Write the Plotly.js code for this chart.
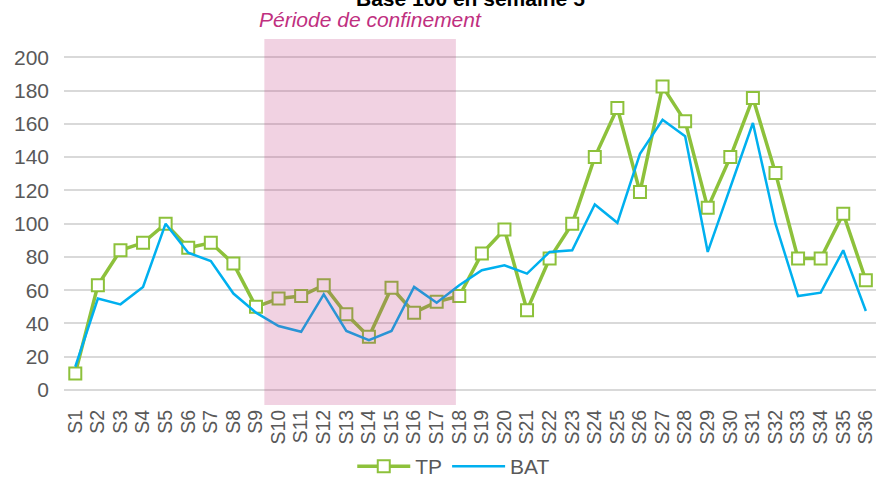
<!DOCTYPE html>
<html>
<head>
<meta charset="utf-8">
<script src="https://cdn.plot.ly/plotly-3.0.1.min.js"></script>
<style>html,body{margin:0;padding:0;background:#fff;}#chart{width:876px;height:477px;}</style>
</head>
<body>
<div id="chart"></div>
<script>
const weeks = ["S1","S2","S3","S4","S5","S6","S7","S8","S9","S10","S11","S12","S13","S14","S15","S16","S17","S18",
  "S19","S20","S21","S22","S23","S24","S25","S26","S27","S28","S29","S30","S31","S32","S33","S34","S35","S36"];
const tpValues = [10, 63, 84, 88.5, 100, 85.5, 88.5, 76, 50, 55, 56.5, 63, 45.5, 32, 61.5, 46.5, 53, 56.5,
  82, 96.5, 48, 79, 100, 140, 169.5, 119, 182.5, 161.5, 109.5, 140, 175.5, 130.5, 79, 79, 106, 66];
const batValues = [14, 55, 51.5, 62, 100, 82.5, 77.5, 58, 46.5, 38.5, 35, 57.5, 35.5, 30, 35.5, 62, 52.5, 63,
  72, 75, 70, 83, 84, 111.5, 100.5, 142, 162.5, 152.5, 83, 122, 160.5, 100, 56.5, 58.5, 84, 47.5];
const seriesNames = ["TP", "BAT"];
const titleText = "Base 100 en semaine 5";
const periodText = "Période de confinement";

const FONT = "'Liberation Sans', Arial, sans-serif";
const traces = [
  {
    x: weeks, y: tpValues, name: seriesNames[0], type: "scatter", mode: "lines+markers",
    line: {color: "#8dc13b", width: 3.5},
    marker: {symbol: "square", size: 12, color: "#ffffff", line: {color: "#8dc13b", width: 2}}
  },
  {
    x: weeks, y: batValues, name: seriesNames[1], type: "scatter", mode: "lines",
    line: {color: "#00b0ef", width: 2.5}
  }
];
const layout = {
  width: 876, height: 477,
  margin: {l: 64, r: 0, t: 39, b: 72, autoexpand: false},
  paper_bgcolor: "#ffffff", plot_bgcolor: "#ffffff",
  font: {family: FONT, color: "#595959", size: 20},
  showlegend: true,
  legend: {orientation: "h", x: 0.48, xanchor: "center", y: -0.168, yanchor: "middle",
           font: {family: FONT, size: 21, color: "#595959"}, itemwidth: 53, bgcolor: "rgba(0,0,0,0)"},
  xaxis: {
    type: "category", range: [-0.5, 35.45], tickangle: -90, dtick: 1,
    showgrid: false, zeroline: false, showline: false, ticks: "",
    tickfont: {family: FONT, size: 19.5, color: "#595959"}
  },
  yaxis: {
    range: [-9, 211], dtick: 20, tick0: 0,
    showgrid: true, gridcolor: "#d9d9d9", gridwidth: 2,
    zeroline: false, showline: false, ticks: "", ticklabelstandoff: 14,
    tickfont: {family: FONT, size: 21, color: "#595959"}
  },
  shapes: [{
    type: "rect", xref: "x", yref: "paper", x0: 8.37, x1: 16.85, y0: 0, y1: 1,
    fillcolor: "#c0307a", opacity: 0.22, line: {width: 0}, layer: "above"
  }],
  annotations: [
    {text: "<b>" + titleText + "</b>", xref: "paper", yref: "paper", x: 0.5, y: 1.11, xanchor: "center", yanchor: "middle",
     showarrow: false, font: {family: FONT, size: 21, color: "#000000"}},
    {text: "<i>" + periodText + "</i>", xref: "paper", yref: "paper", x: 0.377, y: 1.052, xanchor: "center", yanchor: "middle",
     showarrow: false, font: {family: FONT, size: 21, color: "#c0307f"}}
  ]
};
Plotly.newPlot("chart", traces, layout, {displayModeBar: false, staticPlot: true});
</script>
</body>
</html>
